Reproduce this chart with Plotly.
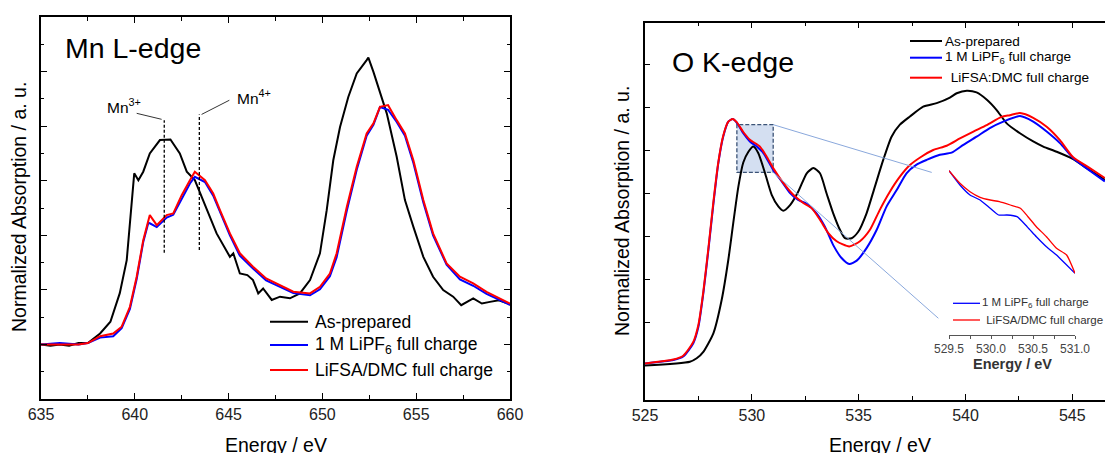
import plotly.graph_objects as go

W, H = 1105, 453
FONT = "Arial, Liberation Sans, sans-serif"

# ---------------- Mn L-edge data ----------------
mn_e_black = [635, 635.5, 636, 636.5, 637, 637.5, 638.15, 638.7, 639.2, 639.57, 639.97, 640.19, 640.45,
              640.8, 641.34, 641.9, 642.4, 642.77, 643.2, 643.83, 644.36, 645.07, 645.25, 645.6, 646.0,
              646.3, 646.58, 646.84, 647.3, 647.74, 648.27, 648.8, 649.34, 649.87, 650.23, 650.58, 650.94,
              651.38, 651.83, 652.36, 652.45, 652.72, 653.07, 653.43, 653.96, 654.4, 654.85, 655.38,
              655.9, 656.44, 656.97, 657.4, 658.04, 658.5, 658.93, 659.4, 659.9, 660]
mn_black = [2.0, 1.95, 2.0, 1.95, 2.05, 2.05, 2.4, 2.83, 3.88, 5.09, 8.27, 8.02, 8.33,
            9.0, 9.49, 9.51, 9.0, 8.33, 8.02, 6.92, 6.07, 5.21, 5.34, 4.6, 4.54,
            4.36, 3.87, 4.05, 3.63, 3.75, 3.69, 3.87, 4.36, 5.34, 6.92, 8.75, 9.97,
            11.07, 11.93, 12.42, 12.51, 11.99, 11.2, 10.47, 8.88, 7.29, 6.31, 5.21,
            4.48, 3.99, 3.75, 3.44, 3.69, 3.5, 3.56, 3.62, 3.5, 3.45]

mn_e_fc = [635, 636, 637, 637.5, 638.15, 638.85, 639.3, 639.74, 640.1, 640.45, 640.72, 640.8, 641.17,
           641.7, 642.05, 642.5, 642.94, 643.2, 643.74, 644.18, 644.54, 645.07, 645.6, 646.3, 647.0,
           647.74, 648.45, 649.34, 649.87, 650.4, 650.76, 651.3, 651.83, 652.36, 652.72, 653.07, 653.5,
           653.96, 654.4, 654.85, 655.38, 655.9, 656.62, 657.33, 658.04, 658.75, 659.9, 660]
mn_lipf6 = [2.0, 2.05, 2.0, 2.05, 2.25, 2.3, 2.6, 3.3, 4.4, 5.75, 6.45, 6.44, 6.3,
            6.65, 6.75, 7.35, 7.9, 8.14, 7.95, 7.45, 6.85, 6.0, 5.25, 4.78, 4.35,
            4.1, 3.88, 3.8, 4.02, 4.5, 5.2, 6.9, 8.4, 9.65, 10.05, 10.7, 10.6,
            10.15, 9.65, 8.65, 7.2, 6.0, 4.92, 4.38, 4.15, 3.85, 3.5, 3.45]
mn_lifsa = [2.0, 2.0, 2.0, 2.05, 2.3, 2.4, 2.65, 3.38, 4.48, 5.82, 6.56, 6.74, 6.37,
            6.74, 6.8, 7.47, 8.02, 8.33, 8.02, 7.53, 6.92, 6.07, 5.34, 4.85, 4.42,
            4.18, 3.93, 3.87, 4.11, 4.6, 5.34, 7.04, 8.51, 9.73, 10.1, 10.71, 10.77,
            10.22, 9.73, 8.75, 7.29, 6.07, 4.97, 4.48, 4.24, 3.93, 3.56, 3.5]

mn3_energy, mn4_energy = 641.57, 643.44
mn_x_ticks = [635, 640, 645, 650, 655, 660]

# ---------------- O K-edge data ----------------
ok_e_black = [525, 527.1, 527.42, 527.73, 528.2, 528.59, 528.9, 529.13, 529.37, 529.6, 529.84, 530.07,
              530.3, 530.62, 530.93, 531.24, 531.47, 531.79, 532.17, 532.57, 532.88, 533.19, 533.5,
              533.81, 534.13, 534.36, 534.67, 534.98, 535.37, 535.76, 536.15, 536.54, 536.93, 537.4,
              538.02, 538.65, 539.27, 539.59, 540.06, 540.52, 541.0, 541.46, 541.93, 542.55, 543.17,
              543.64, 544.27, 545.04, 545.67, 546.52]
ok_black = [0.0, 0.09, 0.17, 0.32, 0.75, 1.53, 2.46, 3.31, 4.16, 4.72, 4.97, 5.09,
            4.94, 4.47, 3.97, 3.7, 3.6, 3.73, 4.04, 4.47, 4.59, 4.47, 4.0,
            3.54, 3.15, 2.96, 2.96, 3.11, 3.54, 4.16, 4.78, 5.32, 5.6, 5.79,
            6.02, 6.1, 6.23, 6.33, 6.39, 6.35, 6.18, 5.94, 5.63, 5.4, 5.21,
            5.09, 4.97, 4.8, 4.59, 4.32]

ok_e_lipf6 = [525, 526.33, 526.79, 527.26, 527.5, 527.73, 527.97, 528.2, 528.43, 528.66, 528.9, 529.1,
              529.29, 529.6, 529.91, 530.23, 530.54, 531.0, 531.4, 531.79, 532.17, 532.57, 533.03,
              533.42, 533.81, 534.2, 534.56, 534.91, 535.37, 535.84, 536.31, 536.78, 537.24, 537.71,
              538.18, 538.8, 539.35, 539.9, 540.52, 541.14, 541.77, 542.55, 543.17, 543.8, 544.42,
              545.04, 545.82, 546.52]
ok_lipf6 = [0.05, 0.13, 0.21, 0.52, 0.9, 1.68, 2.7, 3.75, 4.7, 5.32, 5.67, 5.73,
            5.65, 5.4, 5.21, 5.09, 4.94, 4.55, 4.28, 4.01, 3.85, 3.76, 3.54,
            3.23, 2.8, 2.5, 2.36, 2.44, 2.73, 3.15, 3.7, 4.08, 4.47, 4.67,
            4.78, 4.9, 4.95, 5.13, 5.32, 5.52, 5.67, 5.8, 5.67, 5.44, 5.17,
            4.82, 4.53, 4.28]

ok_e_lifsa = [525, 526.33, 526.79, 527.26, 527.5, 527.73, 527.97, 528.2, 528.43, 528.66, 528.9, 529.1,
              529.29, 529.6, 529.91, 530.38, 530.69, 531.0, 531.48, 531.94, 532.41, 532.8, 533.19,
              533.58, 533.97, 534.56, 535.06, 535.52, 535.99, 536.46, 536.93, 537.4, 537.95, 538.49,
              539.12, 539.74, 540.37, 540.99, 541.69, 542.08, 542.55, 543.17, 543.8, 544.42, 545.04,
              545.82, 546.52]
ok_lifsa = [0.05, 0.14, 0.23, 0.55, 0.95, 1.72, 2.74, 3.8, 4.72, 5.34, 5.67, 5.73,
            5.66, 5.43, 5.25, 5.09, 4.86, 4.59, 4.24, 3.97, 3.78, 3.66, 3.39,
            3.08, 2.89, 2.77, 2.89, 3.15, 3.62, 4.04, 4.39, 4.66, 4.86, 5.01,
            5.11, 5.28, 5.44, 5.59, 5.78, 5.82, 5.87, 5.76, 5.55, 5.24, 4.84,
            4.59, 4.36]

ok_x_ticks = [525, 530, 535, 540, 545]

# zoom box on the O K-edge plot (data coords)
box_e = [529.3, 531.0]
box_y = [4.49, 5.6]

# ---------------- inset data ----------------
in_e_lipf6 = [529.5, 529.63, 529.75, 529.87, 529.99, 530.09, 530.19, 530.31, 530.43, 530.54, 530.66, 530.78,
              530.88, 531.0]
in_lipf6 = [16.43, 15.0, 14.0, 13.5, 12.67, 12.0, 12.0, 11.83, 10.83, 9.83, 8.83, 8.0, 7.17, 6.17]
in_e_lifsa = [529.5, 529.63, 529.75, 529.87, 529.99, 530.1, 530.23, 530.35, 530.44, 530.54, 530.66, 530.78,
              530.9, 531.0]
in_lifsa = [16.43, 15.17, 14.33, 13.77, 13.5, 13.33, 13.0, 12.67, 11.83, 10.83, 9.83, 8.67, 8.0, 6.17]
in_x_ticks = [529.5, 530.0, 530.5, 531.0]

BLACK, BLUE, RED = "#000000", "#0000ff", "#ff0000"


def px(x):
    return x / W


def py(y):
    return 1 - y / H


fig = go.Figure()

# Mn L-edge
fig.add_trace(go.Scatter(x=mn_e_black, y=mn_black, mode="lines", line=dict(color=BLACK, width=2),
                         xaxis="x", yaxis="y", showlegend=False))
fig.add_trace(go.Scatter(x=mn_e_fc, y=mn_lipf6, mode="lines", line=dict(color=BLUE, width=2),
                         xaxis="x", yaxis="y", showlegend=False))
fig.add_trace(go.Scatter(x=mn_e_fc, y=mn_lifsa, mode="lines", line=dict(color=RED, width=2),
                         xaxis="x", yaxis="y", showlegend=False))
# O K-edge
fig.add_trace(go.Scatter(x=ok_e_black, y=ok_black, mode="lines", line=dict(color=BLACK, width=2, shape="spline", smoothing=0.6),
                         xaxis="x2", yaxis="y2", showlegend=False))
fig.add_trace(go.Scatter(x=ok_e_lipf6, y=ok_lipf6, mode="lines", line=dict(color=BLUE, width=2, shape="spline", smoothing=0.6),
                         xaxis="x2", yaxis="y2", showlegend=False))
fig.add_trace(go.Scatter(x=ok_e_lifsa, y=ok_lifsa, mode="lines", line=dict(color=RED, width=2, shape="spline", smoothing=0.6),
                         xaxis="x2", yaxis="y2", showlegend=False))
# inset
fig.add_trace(go.Scatter(x=in_e_lipf6, y=in_lipf6, mode="lines", line=dict(color=BLUE, width=1.3, shape="spline", smoothing=0.5),
                         xaxis="x3", yaxis="y3", showlegend=False))
fig.add_trace(go.Scatter(x=in_e_lifsa, y=in_lifsa, mode="lines", line=dict(color=RED, width=1.3, shape="spline", smoothing=0.5),
                         xaxis="x3", yaxis="y3", showlegend=False))

tickfont = dict(family=FONT, size=16, color="#222222")
common_x = dict(showline=True, linecolor="black", linewidth=1.5, mirror="allticks", ticks="inside",
                ticklen=6, tickwidth=1, tickcolor="black", showgrid=False, zeroline=False,
                tickfont=tickfont, automargin=False)

fig.update_layout(
    width=W, height=H, margin=dict(l=0, r=0, t=0, b=0),
    paper_bgcolor="white", plot_bgcolor="white", showlegend=False, hovermode=False,
    font=dict(family=FONT, color="black"),
    xaxis=dict(domain=[px(41), px(510)], range=[635, 660], tickvals=mn_x_ticks,
               minor=dict(dtick=2.5, tick0=635, ticklen=4, ticks="inside", tickcolor="black"),
               anchor="y", **common_x),
    yaxis=dict(domain=[py(399), py(17)], range=[0, 14], tick0=0, dtick=2, showticklabels=False,
               showline=True, linecolor="black", linewidth=1.5, mirror="allticks", ticks="inside",
               ticklen=6, tickcolor="black", showgrid=False, zeroline=False, anchor="x",
               minor=dict(dtick=1, tick0=0, ticklen=3, ticks="inside", tickcolor="black"),
               automargin=False),
    xaxis2=dict(domain=[px(645), 1.0], range=[525, 546.53], tickvals=ok_x_ticks,
                minor=dict(dtick=2.5, tick0=525, ticklen=4, ticks="inside", tickcolor="black"),
                anchor="y2", **common_x),
    yaxis2=dict(domain=[py(400), py(22.7)], range=[-0.8, 7.97], tick0=0, dtick=1, showticklabels=False,
                showline=True, linecolor="black", linewidth=1.5, mirror=False, ticks="inside",
                ticklen=5, tickcolor="black", showgrid=False, zeroline=False, anchor="x2",
                automargin=False),
    xaxis3=dict(domain=[px(949), px(1075)], range=[529.5, 531.0], tickvals=in_x_ticks,
                ticktext=[f"{v:.1f}" for v in in_x_ticks],
                showline=True, linecolor="#555555", linewidth=1, ticks="outside", ticklen=3,
                tickcolor="#555555", minor=dict(dtick=0.25, tick0=529.5, ticklen=3, ticks="outside",
                                                tickcolor="#555555"),
                tickfont=dict(family=FONT, size=12, color="#444444"), showgrid=False, zeroline=False,
                anchor="y3", automargin=False),
    yaxis3=dict(domain=[py(335), py(165)], range=[0, 17], visible=False, anchor="x3"),
)

shapes = []
# Mn reference dashed lines and leaders
shapes.append(dict(type="line", xref="x", yref="y", x0=mn3_energy, x1=mn3_energy, y0=5.36, y1=10.22,
                   line=dict(color="black", width=1.3, dash="3px,2px")))
shapes.append(dict(type="line", xref="x", yref="y", x0=mn4_energy, x1=mn4_energy, y0=5.46, y1=10.43,
                   line=dict(color="black", width=1.3, dash="3px,2px")))
shapes.append(dict(type="line", xref="x", yref="y", x0=640.1, x1=641.43, y0=10.47, y1=10.25,
                   line=dict(color="black", width=0.8)))
shapes.append(dict(type="line", xref="x", yref="y", x0=643.56, x1=645.04, y0=10.43, y1=10.95,
                   line=dict(color="black", width=0.8)))

# zoom box + connectors on O K-edge
shapes.append(dict(type="rect", xref="x2", yref="y2", x0=box_e[0], x1=box_e[1], y0=box_y[0], y1=box_y[1],
                   line=dict(color="#3b5377", width=1.3, dash="4px,2px"), fillcolor="rgba(160,185,225,0.45)",
                   layer="below"))
shapes.append(dict(type="line", xref="x2", yref="y2", x0=box_e[1], y0=box_y[1], x1=538.42, y1=4.49,
                   line=dict(color="#8aa8dc", width=1)))
shapes.append(dict(type="line", xref="x2", yref="y2", x0=box_e[1], y0=box_y[0], x1=538.73, y1=1.1,
                   line=dict(color="#8aa8dc", width=1)))

annotations = []


def legend_item(x0, x1, y, color, width, text, tx, size, fcolor="black"):
    shapes.append(dict(type="line", xref="paper", yref="paper", x0=px(x0), x1=px(x1), y0=py(y), y1=py(y),
                       line=dict(color=color, width=width)))
    annotations.append(dict(xref="paper", yref="paper", x=px(tx), y=py(y), xanchor="left", yanchor="middle",
                            text=text, showarrow=False, font=dict(family=FONT, size=size, color=fcolor)))


legend_item(270, 308, 321.7, BLACK, 2, "As-prepared", 313, 17.5)
legend_item(270, 308, 345, BLUE, 2, "1 M LiPF<sub>6</sub> full charge", 313, 17.5)
legend_item(270, 308, 370, RED, 2, "LiFSA/DMC full charge", 313, 17.5)

legend_item(910, 942, 41, BLACK, 2, "As-prepared", 943, 13.6)
legend_item(910, 942, 57.7, BLUE, 2, "1 M LiPF<sub>6</sub> full charge", 943, 13.6)
legend_item(910, 942, 77.7, RED, 2, " LiFSA:DMC full charge", 945, 13.6)

legend_item(953, 980, 303.3, BLUE, 1.3, "1 M LiPF<sub>6</sub> full charge", 980, 11.5, "#333333")
legend_item(953, 980, 320, RED, 1.3, " LiFSA/DMC full charge", 981, 11.5, "#333333")


def text_at(x, y, text, size, xanchor="center", angle=0, bold=False, color="black"):
    annotations.append(dict(xref="paper", yref="paper", x=px(x), y=py(y), xanchor=xanchor, yanchor="middle",
                            text=f"<b>{text}</b>" if bold else text, showarrow=False, textangle=angle,
                            font=dict(family=FONT, size=size, color=color)))


text_at(63, 48, "Mn L-edge", 28.5, xanchor="left")
text_at(670, 62, "O K-edge", 28.5, xanchor="left")
text_at(124, 106, "Mn<sup>3+</sup>", 15.5)
text_at(254, 97, "Mn<sup>4+</sup>", 15.5)
text_at(276, 445, "Energy / eV", 19.5)
text_at(880, 445, "Energy / eV", 19.5)
text_at(19, 207, "Normalized Absorption / a. u.", 19.5, angle=-90)
text_at(622, 211, "Normalized Absorption / a. u.", 19.5, angle=-90)
text_at(1012, 364, "Energy / eV", 14.5, bold=True, color="#333333")

fig.update_layout(shapes=shapes, annotations=annotations)
fig.write_html("out.html", config={"displayModeBar": False},
               post_script="document.body.style.margin='0px';")
